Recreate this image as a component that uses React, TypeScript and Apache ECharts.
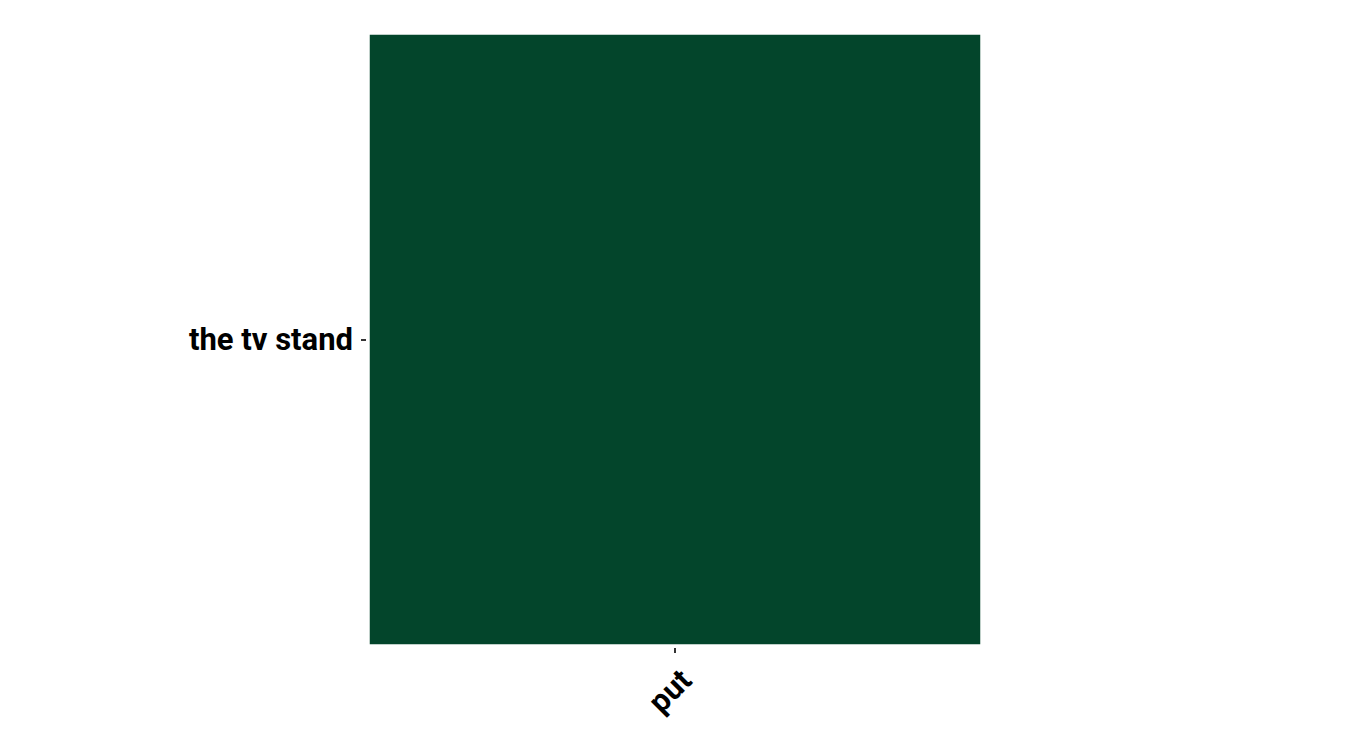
import React, { useEffect, useRef } from "react";
import * as echarts from "echarts";

const xCategories = ["put"];
const yCategories = ["the tv stand"];
const cellValues: [number, number, number][] = [[0, 0, 1]];

export default function App() {
  const ref = useRef<HTMLDivElement>(null);
  useEffect(() => {
    if (!ref.current) return;
    const chart = echarts.init(ref.current, null, { renderer: "svg" });
    chart.setOption({
      animation: false,
      grid: { left: 370, top: 35, right: 370, bottom: 106, containLabel: false },
      xAxis: {
        type: "category",
        data: xCategories,
        offset: 4,
        axisLine: { show: false },
        axisTick: { show: true, length: 5, lineStyle: { color: "#000", width: 1.6 }, alignWithLabel: true },
        axisLabel: {
          rotate: 45,
          margin: 16,
          verticalAlign: "top",
          fontFamily: "Roboto",
          fontWeight: "bold",
          fontSize: 31,
          color: "#000",
        },
        splitLine: { show: false },
      },
      yAxis: {
        type: "category",
        data: yCategories,
        offset: 4,
        axisLine: { show: false },
        axisTick: { show: true, length: 5, lineStyle: { color: "#000", width: 1.6 }, alignWithLabel: true },
        axisLabel: {
          margin: 13,
          fontFamily: "Roboto",
          fontWeight: "bold",
          fontSize: 31,
          color: "#000",
        },
        splitLine: { show: false },
      },
      visualMap: {
        show: false,
        min: 0,
        max: 1,
        inRange: { color: ["#03452b", "#03452b"] },
      },
      series: [
        {
          type: "heatmap",
          data: cellValues,
          itemStyle: { borderWidth: 0 },
          emphasis: { disabled: true },
        },
      ],
    });
    return () => chart.dispose();
  }, []);
  return <div ref={ref} style={{ width: 1350, height: 750, margin: -8 }} />;
}
